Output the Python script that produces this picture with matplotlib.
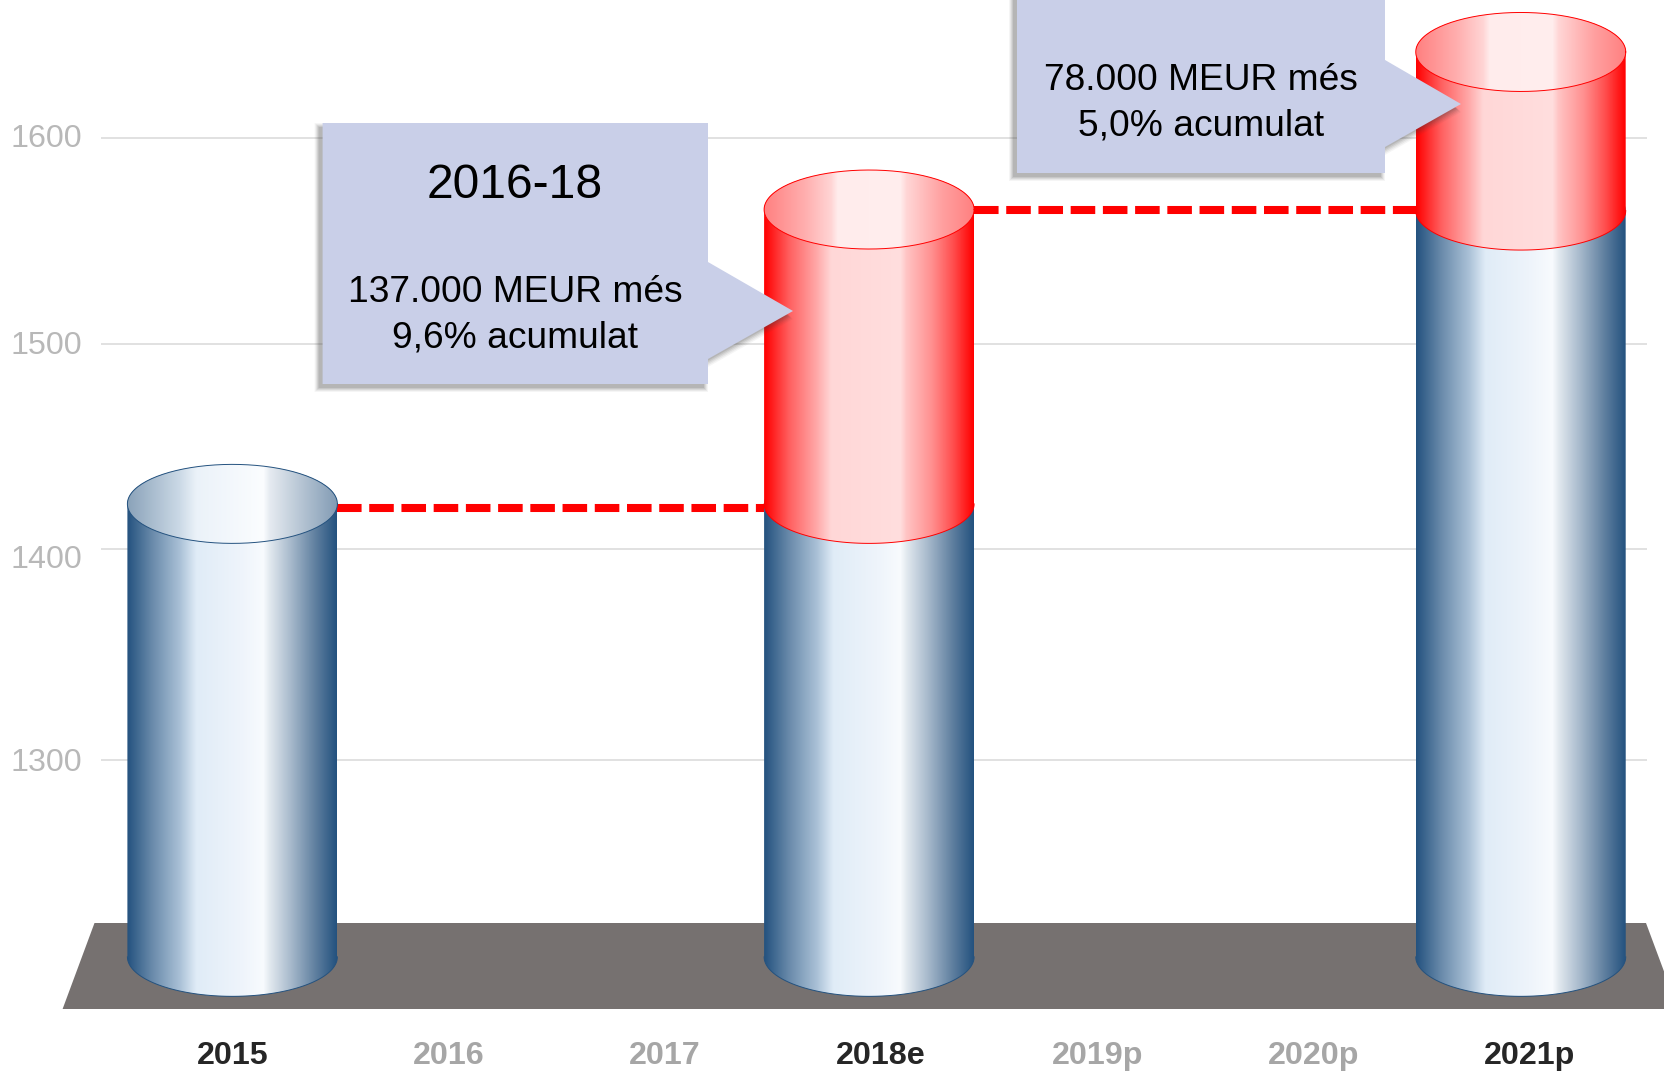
import numpy as np
import matplotlib
matplotlib.use('Agg')
import matplotlib.pyplot as plt
from matplotlib.colors import LinearSegmentedColormap
from matplotlib.patches import PathPatch, Polygon
from matplotlib.path import Path
from matplotlib.transforms import Affine2D, ScaledTranslation

plt.rcParams['font.family'] = ['Liberation Sans', 'DejaVu Sans']

# data
years = ['2015', '2016', '2017', '2018e', '2019p', '2020p', '2021p']
highlighted = ['2015', '2018e', '2021p']
bar_index = [0, 3, 6]
bar_base = [1205, 1423.5, 1565]
bar_prev = [1423.5, 1565.5, 1641.5]
has_red = [False, True, True]
y_labels = ['1300', '1400', '1500', '1600']
# the gridlines in the source are not quite evenly spaced
y_ticks = [1300, 1401.5, 1500.5, 1600]
link_from = [0, 3]
link_to = [3, 6]
link_value = [1421.5, 1565.5]

W, H = 1664, 1071
fig = plt.figure(figsize=(W / 100, H / 100), dpi=100)
# axes box in pixels: 101..1647 across, 0..1012 down
ax = fig.add_axes([101 / W, (H - 1012) / H, (1647 - 101) / W, 1012 / H])
PX_X = 216.2
PX_Y = 2.073
ax.set_xlim((101 - 232.4) / PX_X, (1647 - 232.4) / PX_X)
ax.set_ylim(1600 - (1012 - 138) / PX_Y, 1600 + 138 / PX_Y)
xlim, ylim = ax.get_xlim(), ax.get_ylim()

# pixel coordinates, top left origin, for the shapes that are not data
px = Affine2D().scale(1, -1).translate(0, H)

half_w = 105 / PX_X
half_h = 39.5 / PX_Y
bar_shift = [0, -0.055, -0.041]

blue_stops = [(0, '#24527f'), (0.12, '#6a8bab'), (0.25, '#a9c0d6'), (0.33, '#e0ecf7'),
              (0.54, '#eef4fb'), (0.65, '#f8fbfe'), (0.68, '#e2e9ef'), (0.77, '#aebfd0'),
              (0.9, '#5f7f9f'), (1, '#24527f')]
blue_top_stops = [(0, '#8aa2b9'), (0.25, '#cbd9e6'), (0.33, '#ebf2f9'), (0.65, '#fbfdff'),
                  (0.68, '#e6ebf1'), (0.85, '#b0c0d0'), (1, '#839cb5')]
red_stops = [(0, '#ff0000'), (0.12, '#ff6060'), (0.25, '#ffa8a8'), (0.32, '#ffd7d7'),
             (0.65, '#ffdede'), (0.68, '#ffc4c4'), (0.8, '#ff9090'), (0.9, '#ff5050'), (1, '#ff0000')]
red_top_stops = [(0, '#ff8080'), (0.2, '#ffb0b0'), (0.32, '#ffd5d5'), (0.35, '#ffecec'),
                 (0.65, '#ffeeee'), (0.68, '#ffd6d6'), (0.85, '#ffa0a0'), (1, '#ff8080')]
blue_map = LinearSegmentedColormap.from_list('b', blue_stops)
blue_top_map = LinearSegmentedColormap.from_list('bt', blue_top_stops)
red_map = LinearSegmentedColormap.from_list('r', red_stops)
red_top_map = LinearSegmentedColormap.from_list('rt', red_top_stops)


def shaded(verts, cmap, x0, x1, y0, y1, z):
    path = Path(verts, closed=False)
    patch = PathPatch(path, transform=ax.transData, facecolor='none', edgecolor='none')
    ax.add_patch(patch)
    grad = np.linspace(0, 1, 256).reshape(1, -1)
    im = ax.imshow(grad, cmap=cmap, extent=(x0, x1, y0, y1), aspect='auto',
                   interpolation='bilinear', zorder=z)
    im.set_clip_path(patch)


def body(xc, low, high, cmap, edge, z):
    t = np.linspace(np.pi, 2 * np.pi, 80)
    xs = xc + half_w * np.cos(t)
    ys = low + half_h * np.sin(t)
    back = np.linspace(0, np.pi, 80)
    vx = np.r_[xs, xc + half_w * np.cos(back)]
    vy = np.r_[ys, high + half_h * np.sin(back)]
    shaded(np.c_[vx, vy], cmap, xc - half_w, xc + half_w, low - half_h, high + half_h, z)
    ax.plot(xs, ys, color=edge, lw=0.7, zorder=z + 0.1)


def top(xc, high, cmap, edge, z):
    t = np.linspace(0, 2 * np.pi, 160)
    xs = xc + half_w * np.cos(t)
    ys = high + half_h * np.sin(t)
    shaded(np.c_[xs, ys], cmap, xc - half_w, xc + half_w, high - half_h, high + half_h, z)
    ax.plot(xs, ys, color=edge, lw=0.7, zorder=z + 0.1)


def callout(points, z=8):
    # soft shadow towards the lower left, then the box
    for off, grow, alpha in [(4, 4, 0.05), (4, 3, 0.07), (4, 2, 0.09), (4, 1, 0.11), (4, 0, 0.13)]:
        xs = [p[0] for p in points]
        ys = [p[1] for p in points]
        x_mid, y_mid = (min(xs) + max(xs)) / 2, (min(ys) + max(ys)) / 2
        shifted = [(x - off + grow * np.sign(x - x_mid), y + off + grow * np.sign(y - y_mid))
                   for x, y in points]
        ax.add_patch(Polygon(shifted, closed=True, facecolor='#404040', edgecolor='none',
                             alpha=alpha, transform=px, zorder=z, clip_on=False))
    ax.add_patch(Polygon(points, closed=True, facecolor='#c9cfe8', edgecolor='none',
                         transform=px, zorder=z + 0.1, clip_on=False))


# floor
ax.add_patch(Polygon([(94.5, 923), (1646, 923), (1678, 1009), (62.6, 1009)], closed=True,
                     facecolor='#767170', edgecolor='none', transform=px, zorder=1, clip_on=False))

# cylinders
for i, idx in enumerate(bar_index):
    xc = idx + bar_shift[i]
    low, high = bar_base[i], bar_prev[i]
    if has_red[i]:
        body(xc, 1205, low, blue_map, '#24527f', 3)
        body(xc, low, high, red_map, '#ff0000', 4)
        top(xc, high, red_top_map, '#ff0000', 5)
    else:
        body(xc, low, high, blue_map, '#24527f', 3)
        top(xc, high, blue_top_map, '#24527f', 5)

# dashed links between the cylinders
for a, b, v in zip(link_from, link_to, link_value):
    x0 = a + bar_shift[bar_index.index(a)] + half_w
    x1 = b + bar_shift[bar_index.index(b)] - half_w
    ax.plot([x0, x1], [v, v], color='#ff0000', lw=5.8, dashes=(3.05, 0.95), dash_capstyle='butt',
            zorder=2)

# callouts
callout([(322.6, 123), (708, 123), (708, 262), (793, 311), (708, 359), (708, 384), (322.6, 384)])
callout([(1017, -20), (1385, -20), (1385, 60), (1461, 104), (1385, 147), (1385, 173), (1017, 173)])

ax.text(515, 185, '2016-18', fontsize=34.6, color='black', ha='center', va='center',
        transform=px, zorder=9)
ax.text(515, 293, '137.000 MEUR més', fontsize=26.7, color='black', ha='center', va='center',
        transform=px, zorder=9)
ax.text(515, 338, '9,6% acumulat', fontsize=26.7, color='black', ha='center', va='center',
        transform=px, zorder=9)
ax.text(1201, 81, '78.000 MEUR més', fontsize=26.7, color='black', ha='center', va='center',
        transform=px, zorder=9)
ax.text(1201, 126, '5,0% acumulat', fontsize=26.7, color='black', ha='center', va='center',
        transform=px, zorder=9)

# axes
ax.set_xlim(xlim)
ax.set_ylim(ylim)
ax.set_xticks(range(len(years)))
ax.set_xticklabels(years, fontsize=23.2, fontweight='bold')
for lab, name in zip(ax.get_xticklabels(), years):
    lab.set_color('#262626' if name in highlighted else '#a6a6a6')
ax.set_yticks(y_ticks)
ax.set_yticklabels(y_labels, fontsize=23.2, color='#b8b8b8')
ax.tick_params(axis='x', length=0, pad=21)
ax.tick_params(axis='y', length=0, pad=13.3)
ax.yaxis.grid(True, color='#d9d9d9', lw=1.1)
ax.xaxis.grid(False)
ax.set_axisbelow(True)
for s in ax.spines.values():
    s.set_visible(False)
# the labels do not sit exactly on their gridlines
label_nudge = [0, -7, 2, 3]
for lab, dy in zip(ax.get_yticklabels(), label_nudge):
    lab.set_transform(lab.get_transform() + ScaledTranslation(0, dy / 100, fig.dpi_scale_trans))

fig.savefig('out.png', dpi=100, facecolor='white')
